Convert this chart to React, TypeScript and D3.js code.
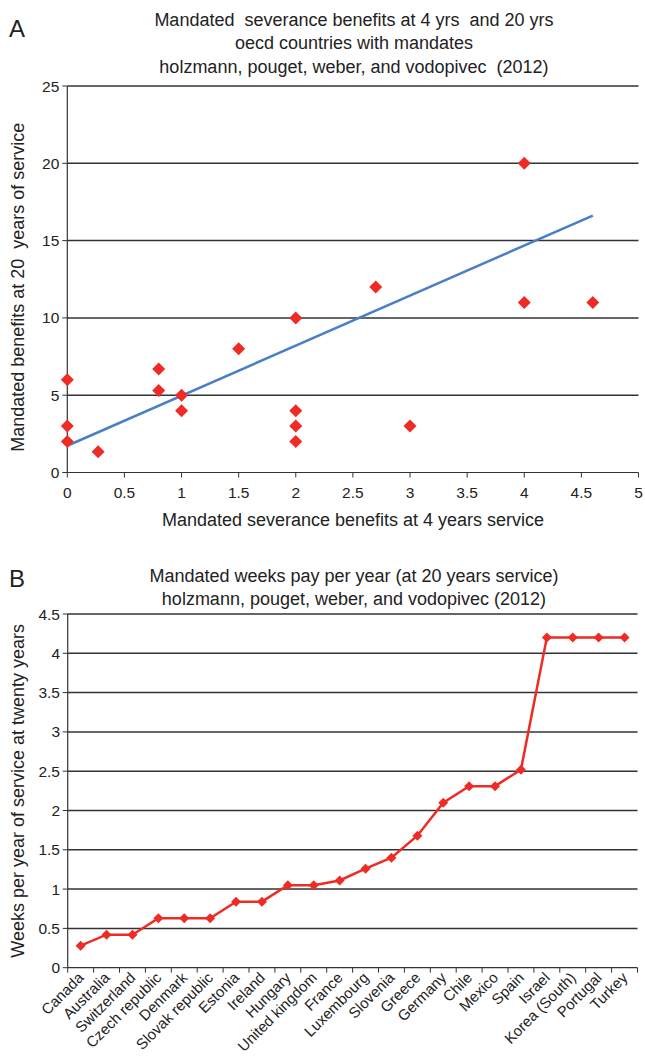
import React from "react";
import * as d3 from "d3";

// panel A: severance at 4 years vs 20 years of service
const benefitsAt4 = [0, 0, 0, 0.27, 0.8, 0.8, 1, 1, 1.5, 2, 2, 2, 2, 2.7, 3, 4, 4, 4.6];
const benefitsAt20 = [6, 3, 2, 1.35, 6.7, 5.3, 5, 4, 8, 10, 4, 3, 2, 12, 3, 20, 11, 11];
const trendX = [0, 4.6];
const trendY = [1.73, 16.62];
const xTicksA = [0, 0.5, 1, 1.5, 2, 2.5, 3, 3.5, 4, 4.5, 5];
const yTicksA = [0, 5, 10, 15, 20, 25];

// panel B: weeks pay per year at 20 years service
const countries = [
  "Canada", "Australia", "Switzerland", "Czech republic", "Denmark", "Slovak republic",
  "Estonia", "Ireland", "Hungary", "United kingdom", "France", "Luxembourg", "Slovenia",
  "Greece", "Germany", "Chile", "Mexico", "Spain", "Israel", "Korea (South)", "Portugal", "Turkey",
];
const weeksPerYear = [
  0.28, 0.42, 0.42, 0.63, 0.63, 0.63, 0.84, 0.84, 1.05, 1.05, 1.11, 1.26, 1.4,
  1.68, 2.1, 2.31, 2.31, 2.52, 4.2, 4.2, 4.2, 4.2,
];
const yTicksB = [0, 0.5, 1, 1.5, 2, 2.5, 3, 3.5, 4, 4.5];

const FONT = "'Liberation Sans', Arial, sans-serif";
const INK = "#222";
const RED = "#ee2b24";

const diamond = (cx, cy, r) => `M${cx},${cy - r}L${cx + r},${cy}L${cx},${cy + r}L${cx - r},${cy}Z`;

export default function App() {
  const W = 645, H = 1059;

  // scatter
  const xA = d3.scaleLinear().domain([0, 5]).range([67.3, 638.5]);
  const yA = d3.scaleLinear().domain([0, 25]).range([472.5, 86]);

  // line
  const xB = d3.scaleBand().domain(countries).range([67.7, 637.5]);
  const yB = d3.scaleLinear().domain([0, 4.5]).range([967.7, 614]);
  const cx = (c) => xB(c) + xB.bandwidth() / 2;

  const linePath = d3.line()
    .x((d, i) => cx(countries[i]))
    .y((d) => yB(d))(weeksPerYear);

  const trendPath = d3.line()
    .x((d) => xA(d))
    .y((d, i) => yA(trendY[i]))(trendX);

  return (
    <svg width={W} height={H} style={{ position: "absolute", left: 0, top: 0, background: "#fff" }} fontFamily={FONT}>
      {/* ---------- A ---------- */}
      <text x={9} y={37} fontSize={24} fill={INK}>A</text>
      <g fontSize={18} fill={INK} textAnchor="middle">
        <text x={354} y={26} xmlSpace="preserve">Mandated  severance benefits at 4 yrs  and 20 yrs</text>
        <text x={354} y={49}>oecd countries with mandates</text>
        <text x={354} y={73} xmlSpace="preserve">holzmann, pouget, weber, and vodopivec  (2012)</text>
      </g>

      {yTicksA.filter((t) => t > 0).map((t) => (
        <line key={t} x1={xA(0)} x2={xA(5)} y1={yA(t)} y2={yA(t)} stroke="#333" strokeWidth={1.5} />
      ))}
      <line x1={xA(0)} x2={xA(0)} y1={yA(25)} y2={yA(0)} stroke="#333" strokeWidth={1.2} />
      <line x1={xA(0)} x2={xA(5)} y1={yA(0)} y2={yA(0)} stroke="#333" strokeWidth={1.2} />
      {yTicksA.map((t) => (
        <g key={t}>
          <line x1={xA(0) - 5} x2={xA(0)} y1={yA(t)} y2={yA(t)} stroke="#333" />
          <text x={xA(0) - 8} y={yA(t) + 5.5} fontSize={15.5} textAnchor="end" fill={INK}>{t}</text>
        </g>
      ))}
      {xTicksA.map((t) => (
        <g key={t}>
          <line x1={xA(t)} x2={xA(t)} y1={yA(0)} y2={yA(0) + 5} stroke="#333" />
          <text x={xA(t)} y={yA(0) + 25} fontSize={15.5} textAnchor="middle" fill={INK}>{t}</text>
        </g>
      ))}
      <text x={353} y={526} fontSize={18} textAnchor="middle" fill={INK}>Mandated severance benefits at 4 years service</text>
      <text transform={`translate(24,${yA(12.5) + 8}) rotate(-90)`} fontSize={18} textAnchor="middle" fill={INK} xmlSpace="preserve">
        Mandated benefits at 20  years of service
      </text>

      <path d={trendPath} stroke="#4a7fc4" strokeWidth={2.5} fill="none" />
      {benefitsAt4.map((v, i) => (
        <path key={i} d={diamond(xA(v), yA(benefitsAt20[i]), 6.5)} fill={RED} />
      ))}

      {/* ---------- B ---------- */}
      <text x={9} y={587} fontSize={24} fill={INK}>B</text>
      <g fontSize={18} fill={INK} textAnchor="middle">
        <text x={354} y={582}>Mandated weeks pay per year (at 20 years service)</text>
        <text x={354} y={605}>holzmann, pouget, weber, and vodopivec (2012)</text>
      </g>

      {yTicksB.filter((t) => t > 0).map((t) => (
        <line key={t} x1={67.7} x2={637.5} y1={yB(t)} y2={yB(t)} stroke="#333" strokeWidth={1.5} />
      ))}
      <line x1={67.7} x2={67.7} y1={yB(4.5)} y2={yB(0)} stroke="#333" strokeWidth={1.2} />
      <line x1={67.7} x2={637.5} y1={yB(0)} y2={yB(0)} stroke="#333" strokeWidth={1.2} />
      {yTicksB.map((t) => (
        <g key={t}>
          <line x1={62.7} x2={67.7} y1={yB(t)} y2={yB(t)} stroke="#333" />
          <text x={60} y={yB(t) + 5.5} fontSize={15.5} textAnchor="end" fill={INK}>{t}</text>
        </g>
      ))}
      {countries.map((c) => (
        <g key={c}>
          <line x1={xB(c)} x2={xB(c)} y1={yB(0)} y2={yB(0) + 5} stroke="#333" />
          <text
            transform={`translate(${cx(c) + 4},${yB(0) + 11}) rotate(-45)`}
            fontSize={15}
            textAnchor="end"
            fill={INK}
          >{c}</text>
        </g>
      ))}
      <line x1={637.5} x2={637.5} y1={yB(0)} y2={yB(0) + 5} stroke="#333" />
      <text transform={`translate(24,${yB(2.25)}) rotate(-90)`} fontSize={18} textAnchor="middle" fill={INK}>
        Weeks per year of service at twenty years
      </text>

      <path d={linePath} stroke={RED} strokeWidth={2.5} fill="none" />
      {weeksPerYear.map((v, i) => (
        <path key={i} d={diamond(cx(countries[i]), yB(v), 5)} fill={RED} />
      ))}
    </svg>
  );
}
